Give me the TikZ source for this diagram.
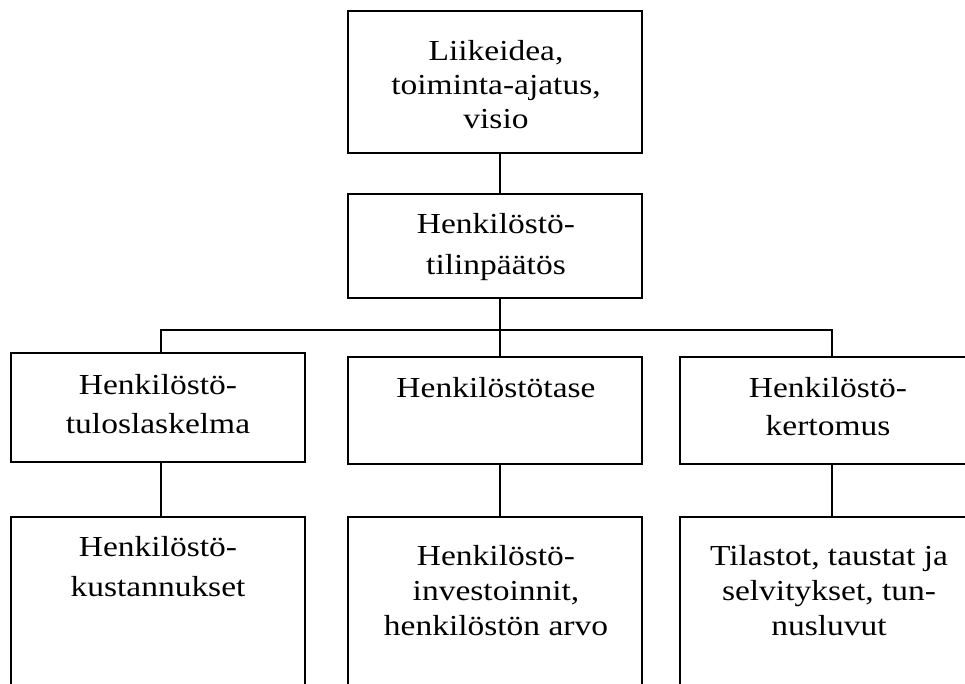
\documentclass[tikz,border=0pt]{standalone}
\usepackage{fontspec}
\setmainfont{Liberation Serif}[FakeStretch=1.155]
\begin{document}
\begin{tikzpicture}[x=1pt,y=-1pt]
\tikzset{
  box/.style={draw, line width=2pt, minimum width=294pt, inner sep=0pt},
  conn/.style={line width=2pt},
  lbl/.style={anchor=base, align=center, inner sep=0pt, font=\fontsize{29}{#1}\selectfont},
  lbl/.default=38
}
\useasboundingbox (0,0) rectangle (965,684);
\clip (0,0) rectangle (965,684);
% boxes
\node[box, minimum height=142pt] (top) at (495,82) {};
\node[box, minimum height=104pt] (mid) at (495,246) {};
\node[box, minimum height=109pt] (L1) at (158,407.5) {};
\node[box, minimum height=107pt] (M1) at (495,410.5) {};
\node[box, minimum height=107pt] (R1) at (827,410.5) {};
\node[box, minimum height=203pt] (L2) at (158,618.5) {};
\node[box, minimum height=203pt] (M2) at (495,618.5) {};
\node[box, minimum height=203pt] (R2) at (827,618.5) {};
% texts (anchor base = baseline of the last line)
\node[lbl=34] (ttop) at (496,129) {Liikeidea,\\toiminta-ajatus,\\visio};
\node[lbl=40] (tmid) at (496,274) {Henkilöstö-\\tilinpäätös};
\node[lbl=39] (tL1) at (158,433) {Henkilöstö-\\tuloslaskelma};
\node[lbl] (tM1) at (496,397) {Henkilöstötase};
\node[lbl=38] (tR1) at (828,435) {Henkilöstö-\\kertomus};
\node[lbl=40] (tL2) at (158,596) {Henkilöstö-\\kustannukset};
\node[lbl=35] (tM2) at (496,635) {Henkilöstö-\\investoinnit,\\henkilöstön arvo};
\node[lbl=35] (tR2) at (829,635) {Tilastot, taustat ja\\selvitykset, tun-\\nusluvut};
% connector anchors
\coordinate (bar) at (0,329.5);
\coordinate (ts) at ([xshift=4.5pt]top.south);
\coordinate (mn) at ([xshift=4.5pt]mid.north);
\coordinate (ms) at ([xshift=4.5pt]mid.south);
\coordinate (l1n) at ([xshift=3pt]L1.north);
\coordinate (m1n) at ([xshift=4.5pt]M1.north);
\coordinate (r1n) at ([xshift=5pt]R1.north);
\coordinate (l1s) at ([xshift=3pt]L1.south);
\coordinate (m1s) at ([xshift=4.5pt]M1.south);
\coordinate (r1s) at ([xshift=5pt]R1.south);
\coordinate (l2n) at ([xshift=3pt]L2.north);
\coordinate (m2n) at ([xshift=4.5pt]M2.north);
\coordinate (r2n) at ([xshift=5pt]R2.north);
% connectors
\draw[conn] (ts) -- (mn);
\draw[conn] (ms) -- (ms |- bar);
\draw[conn] (l1n) -- (l1n |- bar) -- (r1n |- bar) -- (r1n);
\draw[conn] (m1n) -- (m1n |- bar);
\draw[conn] (l1s) -- (l2n);
\draw[conn] (m1s) -- (m2n);
\draw[conn] (r1s) -- (r2n);
\end{tikzpicture}
\end{document}
